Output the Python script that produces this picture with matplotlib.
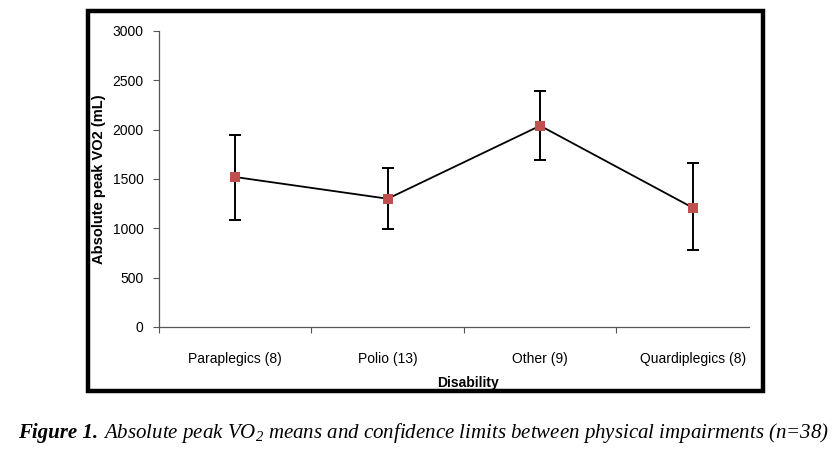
import numpy as np
import matplotlib
matplotlib.use("Agg")
import matplotlib.pyplot as plt
from matplotlib.patches import Rectangle

# Data
categories = ["Paraplegics (8)", "Polio (13)", "Other (9)", "Quardiplegics (8)"]
means = [1520, 1300, 2040, 1210]
upper = [1950, 1610, 2390, 1660]
lower = [1080, 990, 1690, 780]
yticks = [0, 500, 1000, 1500, 2000, 2500, 3000]

plt.rcParams['mathtext.fontset'] = 'custom'
plt.rcParams['mathtext.rm'] = 'Liberation Serif:italic'
plt.rcParams['mathtext.it'] = 'Liberation Serif:italic'

TICK_FONT = ['Liberation Sans', 'DejaVu Sans']
LABEL_FONT = ['Liberation Sans', 'DejaVu Sans']
MARKER_COLOR = '#C0504D'

W, H = 840, 451
fig = plt.figure(figsize=(W / 100, H / 100), dpi=100)
ax = fig.add_axes([159 / W, 1 - 327 / H, (749 - 159) / W, (327 - 31) / H])

x = np.arange(1, len(categories) + 1)
m = np.array(means)
err = [m - np.array(lower), np.array(upper) - m]

ax.errorbar(x, m, yerr=err, fmt='none', ecolor='black', elinewidth=1.4,
            capsize=4, capthick=1.4, zorder=2)
ax.plot(x, m, color='black', lw=1.3, zorder=3)
ax.plot(x, m, ls='none', marker='s', markersize=7.5, color=MARKER_COLOR,
        markeredgewidth=0, zorder=4)

# Axes
ax.set_ylim(0, 3000)
ax.set_xlim(0.5, 4.37)
ax.set_yticks(yticks)
ax.set_yticklabels([str(v) for v in yticks], family=TICK_FONT, fontsize=10)
ax.set_xticks([0.5, 1.5, 2.5, 3.5])
ax.set_xticklabels([])
ax.set_xticks(x, labels=categories, minor=True)
for lbl in ax.get_xticklabels(minor=True):
    lbl.set_family(TICK_FONT)
    lbl.set_fontsize(10)
ax.tick_params(axis='x', which='minor', length=0, pad=18)
ax.tick_params(axis='x', which='major', length=4, width=0.8, color='#555555')
ax.tick_params(axis='y', length=4, width=0.8, color='#555555', pad=7)

for s in ['top', 'right']:
    ax.spines[s].set_visible(False)
for s in ['left', 'bottom']:
    ax.spines[s].set_color('#555555')
    ax.spines[s].set_linewidth(0.9)

ax.set_ylabel('Absolute peak VO2 (mL)', family=LABEL_FONT, fontsize=10.5,
              fontweight='bold')
ax.yaxis.set_label_coords(-0.089, 0.5)
fig.text(468 / W, 1 - 383 / H, 'Disability', family=LABEL_FONT, fontsize=10,
         fontweight='bold', ha='center', va='center')

# Outer frame
fig.add_artist(Rectangle((88 / W, 1 - 391 / H), (763 - 88) / W, (391 - 11) / H,
                         transform=fig.transFigure, fill=False,
                         edgecolor='black', lw=3.2))

# Caption
cap_y = 1 - 438 / H
t1 = fig.text(18 / W, cap_y, 'Figure 1.', family='Liberation Serif',
              fontsize=15, fontweight='bold', style='italic', va='baseline')
fig.canvas.draw()
bb = t1.get_window_extent()
fig.text((bb.x1 + 5) / W, cap_y,
         'Absolute peak VO$_2$ means and confidence limits between physical impairments (n=38)',
         family='Liberation Serif', fontsize=15, style='italic', va='baseline')

fig.savefig('out.png', dpi=100)
